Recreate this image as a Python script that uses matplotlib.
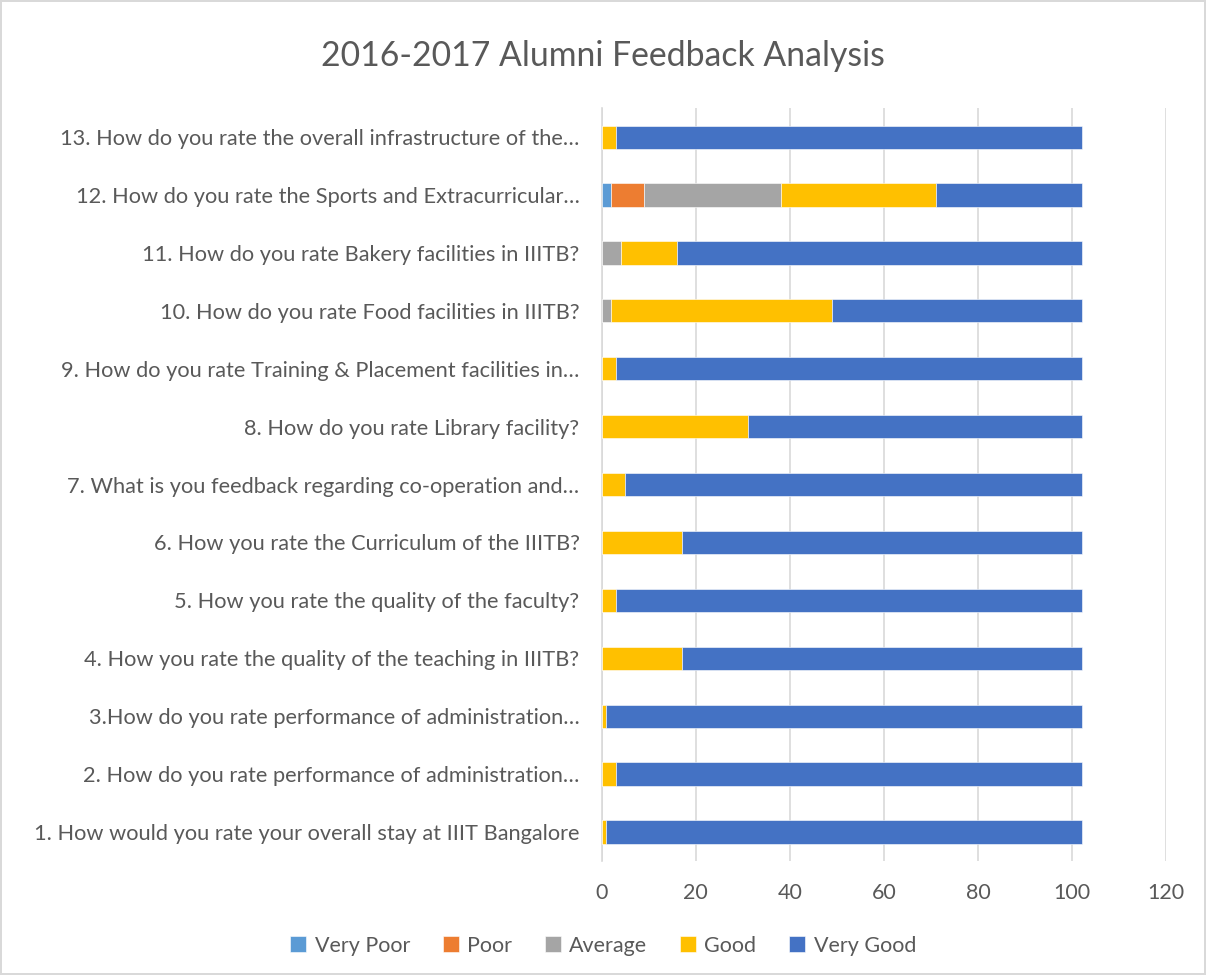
import matplotlib.pyplot as plt
import numpy as np

questions = [
    "1. How would you rate your overall stay at IIIT Bangalore",
    "2. How do you rate performance of administration\u2026",
    "3.How do you rate performance of administration\u2026",
    "4. How you rate the quality of the teaching in IIITB?",
    "5. How you rate the quality of the faculty?",
    "6. How you rate the Curriculum of the IIITB?",
    "7. What is you feedback regarding co-operation and\u2026",
    "8. How do you rate Library facility?",
    "9. How do you rate Training & Placement facilities in\u2026",
    "10. How do you rate Food facilities in IIITB?",
    "11. How do you rate Bakery facilities in IIITB?",
    "12. How do you rate the Sports and Extracurricular\u2026",
    "13. How do you rate the overall infrastructure of the\u2026",
]
very_poor = [0, 0, 0, 0, 0, 0, 0, 0, 0, 0, 0, 2, 0]
poor      = [0, 0, 0, 0, 0, 0, 0, 0, 0, 0, 0, 7, 0]
average   = [0, 0, 0, 0, 0, 0, 0, 0, 0, 2, 4, 29, 0]
good      = [1, 3, 1, 17, 3, 17, 5, 31, 3, 47, 12, 33, 3]
very_good = [101, 99, 101, 85, 99, 85, 97, 71, 99, 53, 86, 31, 99]

series = [("Very Poor", very_poor, "#5B9BD5"),
          ("Poor", poor, "#ED7D31"),
          ("Average", average, "#A5A5A5"),
          ("Good", good, "#FFC000"),
          ("Very Good", very_good, "#4472C4")]

plt.rcParams['font.family'] = ['Lato', 'DejaVu Sans']
txt = "#595959"

fig = plt.figure(figsize=(12.06, 9.75), dpi=100)
fig.patch.set_edgecolor("#D9D9D9")
fig.patch.set_linewidth(1.5)
ax = fig.add_axes([0.499, 0.117, 0.468, 0.772])

y = np.arange(len(questions))
left = np.zeros(len(questions))
for name, vals, col in series:
    vals = np.array(vals, dtype=float)
    ax.barh(y, vals, left=left, height=0.4, color=col, label=name,
            edgecolor="white", linewidth=0.4, zorder=3)
    left += vals

ax.set_xlim(0, 120)
ax.set_ylim(-0.5, len(questions) - 0.5)
ax.set_xticks(np.arange(0, 121, 20))
ax.set_yticks(y)
ax.set_yticklabels(questions, fontsize=15.7, color=txt)
ax.tick_params(axis='x', labelsize=15.5, colors=txt, length=0, pad=16)
ax.tick_params(axis='y', length=0, pad=16)
ax.grid(axis='x', color="#D9D9D9", linewidth=1.2, zorder=0)
for s in ["top", "right", "bottom"]:
    ax.spines[s].set_visible(False)
ax.spines["left"].set_color("#D9D9D9")
ax.spines["left"].set_linewidth(1.2)

fig.text(0.5, 0.943, "2016-2017 Alumni Feedback Analysis", ha="center", va="center",
         fontsize=24.3, color=txt)

fig.legend(loc="center", bbox_to_anchor=(0.5, 0.03), ncol=5, frameon=False,
           fontsize=15.5, labelcolor=txt, handlelength=0.75, handleheight=0.75,
           handletextpad=0.4, columnspacing=1.5)

fig.savefig("out.png", dpi=100)
